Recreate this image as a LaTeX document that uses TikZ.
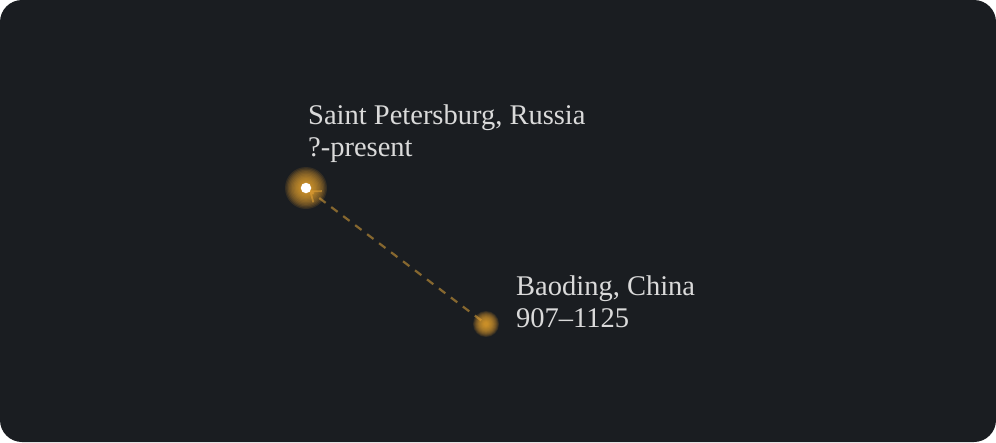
\documentclass[tikz,border=0pt]{standalone}
\usepackage{fontspec}
\setmainfont{Liberation Serif}
\usetikzlibrary{arrows.meta}
\definecolor{bg}{HTML}{1A1D21}
\definecolor{glow}{HTML}{F0A830}
\definecolor{dash}{HTML}{86672F}
\definecolor{txt}{HTML}{DADADA}
\tikzset{
  lbl/.style={anchor=base west, inner sep=0pt, text=txt, font=\fontsize{28.5}{32}\selectfont},
  link/.style={draw=dash, line width=2.2pt, dash pattern=on 8pt off 7pt, -{Straight Barb[length=9pt,width=14pt,line width=1.8pt]}, shorten >=4pt, shorten <=6pt}
}
\newcommand{\glowat}[3]{% center, radius
  \foreach \k in {0,...,13}{
    \fill[glow, opacity=0.12] (#1,#2) circle ({#3*(1.0-0.065*\k)});
  }
}
\begin{document}
\begin{tikzpicture}[x=1pt,y=-1pt]
\useasboundingbox (0,0) rectangle (996,442);
\fill[white] (0,0) rectangle (996,442);
\fill[bg, rounded corners=22pt] (0,0) rectangle (996,442);
\coordinate (spc) at (306,188);
\coordinate (bd) at (486,324);
\draw[link] (bd) -- (spc);
% glows
\glowat{306}{188}{21}
\glowat{486}{324}{13}
\node[circle, fill=white, inner sep=0pt, minimum size=10.5pt] (sp) at (spc) {};
\node[lbl] (t1) at (308,124) {Saint Petersburg, Russia};
\node[lbl] (t2) at (308,156) {?-present};
\node[lbl] (t3) at (516,295) {Baoding, China};
\node[lbl] (t4) at (516,327) {907–1125};
\end{tikzpicture}
\end{document}
